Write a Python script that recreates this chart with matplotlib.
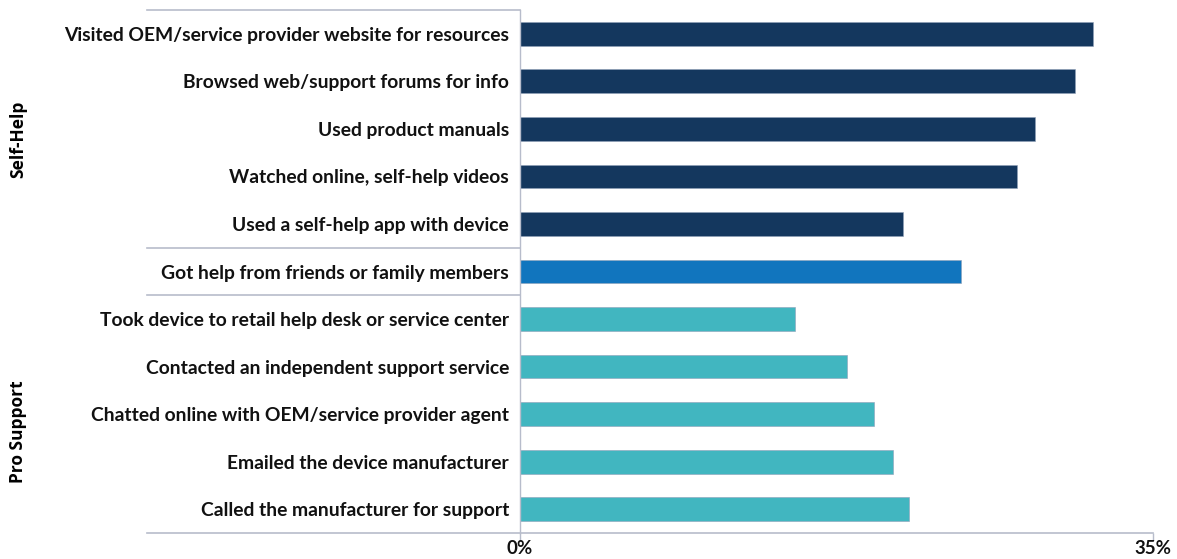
import matplotlib.pyplot as plt

plt.rcParams['font.family'] = ['Lato', 'DejaVu Sans']

# survey responses, top to bottom
labels = [
    "Visited OEM/service provider website for resources",
    "Browsed web/support forums for info",
    "Used product manuals",
    "Watched online, self-help videos",
    "Used a self-help app with device",
    "Got help from friends or family members",
    "Took device to retail help desk or service center",
    "Contacted an independent support service",
    "Chatted online with OEM/service provider agent",
    "Emailed the device manufacturer",
    "Called the manufacturer for support",
]
values = [31.7, 30.7, 28.5, 27.5, 21.2, 24.4, 15.2, 18.1, 19.6, 20.6, 21.5]
groups = ["self"] * 5 + ["family"] + ["pro"] * 5
group_colors = {"self": "#14375E", "family": "#1175BE", "pro": "#41B6C0"}

line_col = "#B7BCCB"

fig = plt.figure(figsize=(11.77, 5.59), dpi=100)
ax = fig.add_axes([520 / 1177, 26 / 559, 633 / 1177, 523 / 559])

ypos = list(range(len(labels)))
ax.barh(ypos, values, height=0.5, color=[group_colors[g] for g in groups],
        edgecolor="#8FA0B8", linewidth=0.4)

ax.set_xlim(0, 35)
ax.set_ylim(len(labels) - 0.5, -0.5)
ax.set_yticks(ypos)
ax.set_yticklabels(labels, fontsize=13.9, fontweight="bold", color="#111111")
ax.set_xticks([0, 35])
ax.set_xticklabels(["0%", "35%"], fontsize=13.5, fontweight="bold", color="#111111")
ax.tick_params(axis="y", length=0, pad=8)
ax.tick_params(axis="x", length=5, width=1, color=line_col, pad=0)

for side in ["top", "right", "bottom"]:
    ax.spines[side].set_visible(False)
ax.spines["left"].set_color(line_col)
ax.spines["left"].set_linewidth(1)

# separators that run out into the label column
trans = ax.get_yaxis_transform()
x_left = (147 - 520) / 633
for y, x_right in [(-0.5, 0), (4.5, 0), (5.5, 0), (10.5, 1)]:
    ax.plot([x_left, x_right], [y, y], transform=trans, color=line_col,
            lw=1.2, clip_on=False)

# group titles
fig.text(18 / 1177, 1 - 139 / 559, "Self-Help", rotation=90, ha="center",
         va="center", fontsize=12.5, fontweight="bold", family=["Open Sans"])
fig.text(18 / 1177, 1 - 432 / 559, "Pro Support", rotation=90, ha="center",
         va="center", fontsize=12.5, fontweight="bold", family=["Open Sans"])

fig.savefig("out.png", dpi=100)
